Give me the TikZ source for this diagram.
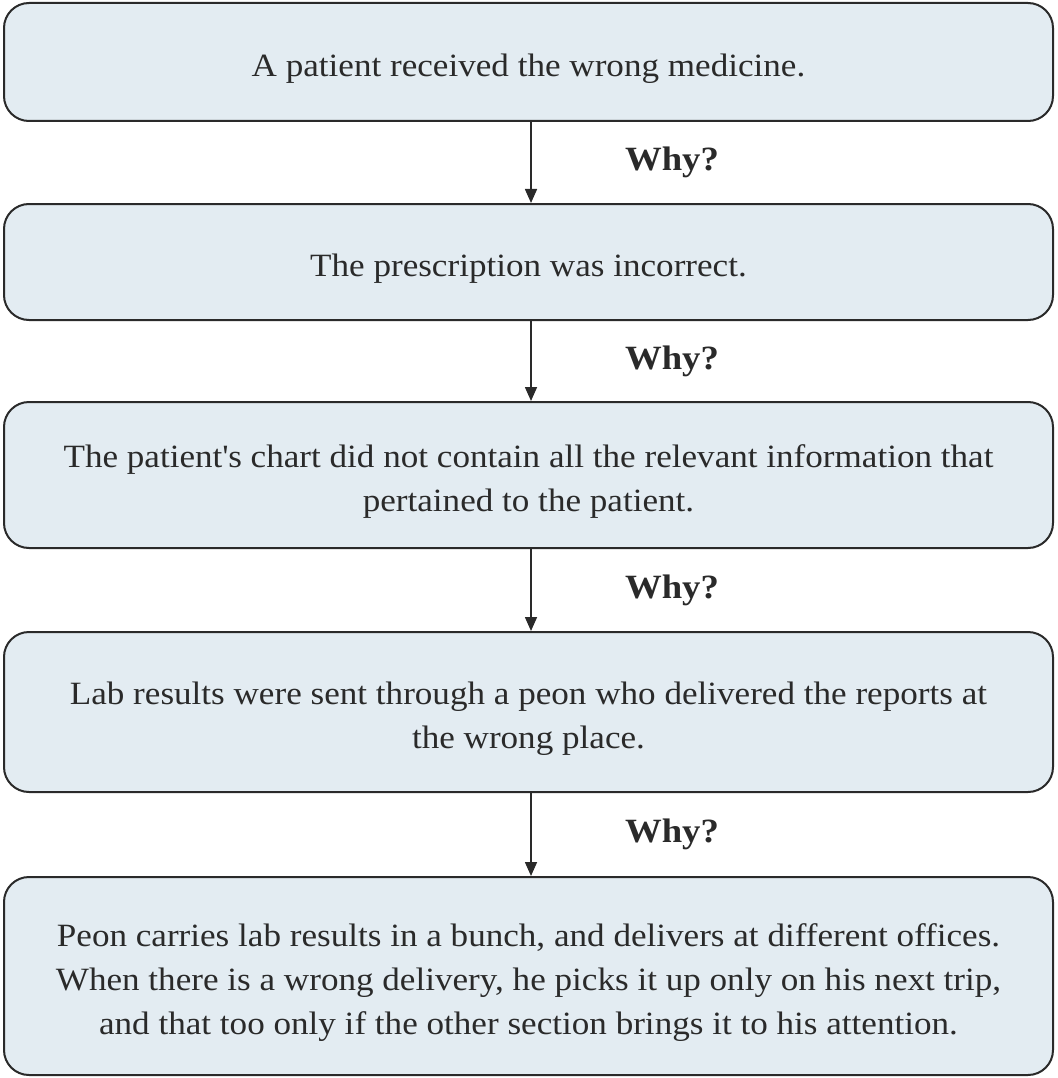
\documentclass[tikz,border=0pt]{standalone}
\usepackage{fontspec}
\setmainfont{Liberation Serif}[FakeStretch=1.08]
\usetikzlibrary{arrows.meta,calc}
\definecolor{boxfill}{HTML}{E3ECF2}
\definecolor{ink}{HTML}{2A2A2A}
\tikzset{
  whybox/.style={draw=ink, line width=2pt, fill=boxfill, rounded corners=25pt,
    minimum width=1049pt, inner sep=0pt},
  boxtext/.style={align=center, inner sep=0pt, text=ink, yshift=-7pt,
    font=\fontsize{32.5}{44}\selectfont},
  whyarrow/.style={draw=ink, line width=1.6pt, -{Triangle[length=14pt,width=12pt]}},
  whylabel/.style={font=\fontsize{34}{40}\selectfont\bfseries, text=ink}
}
\begin{document}
\begin{tikzpicture}[x=1pt,y=-1pt]
\useasboundingbox (0,0) rectangle (1057,1078);
% the chain of causes, top to bottom
\node[whybox, minimum height=118pt] (b1) at (528.5,62) {};
\node[whybox, minimum height=116pt] (b2) at (528.5,262) {};
\node[whybox, minimum height=146pt] (b3) at (528.5,475) {};
\node[whybox, minimum height=160pt] (b4) at (528.5,712) {};
\node[whybox, minimum height=198pt] (b5) at (528.5,976) {};
\node[boxtext] (t1) at (b1.center) {A patient received the wrong medicine.};
\node[boxtext] (t2) at (b2.center) {The prescription was incorrect.};
\node[boxtext] (t3) at (b3.center) {The patient\textquotesingle s chart did not contain all the relevant information that\\pertained to the patient.};
\node[boxtext] (t4) at (b4.center) {Lab results were sent through a peon who delivered the reports at\\the wrong place.};
\node[boxtext] (t5) at (b5.center) {Peon carries lab results in a bunch, and delivers at different offices.\\When there is a wrong delivery, he picks it up only on his next trip,\\and that too only if the other section brings it to his attention.};
% arrow column and label column
\coordinate (ax) at (531,0);
\coordinate (lx) at (672,0);
\foreach \a/\b/\n in {b1/b2/w1, b2/b3/w2, b3/b4/w3, b4/b5/w4}{
  \draw[whyarrow] (\a.south -| ax) -- (\b.north -| ax);
  \coordinate (m\n) at ($(\a.south)!0.5!(\b.north)$);
  \node[whylabel] (\n) at (m\n -| lx) {Why?};
}
\end{tikzpicture}
\end{document}
